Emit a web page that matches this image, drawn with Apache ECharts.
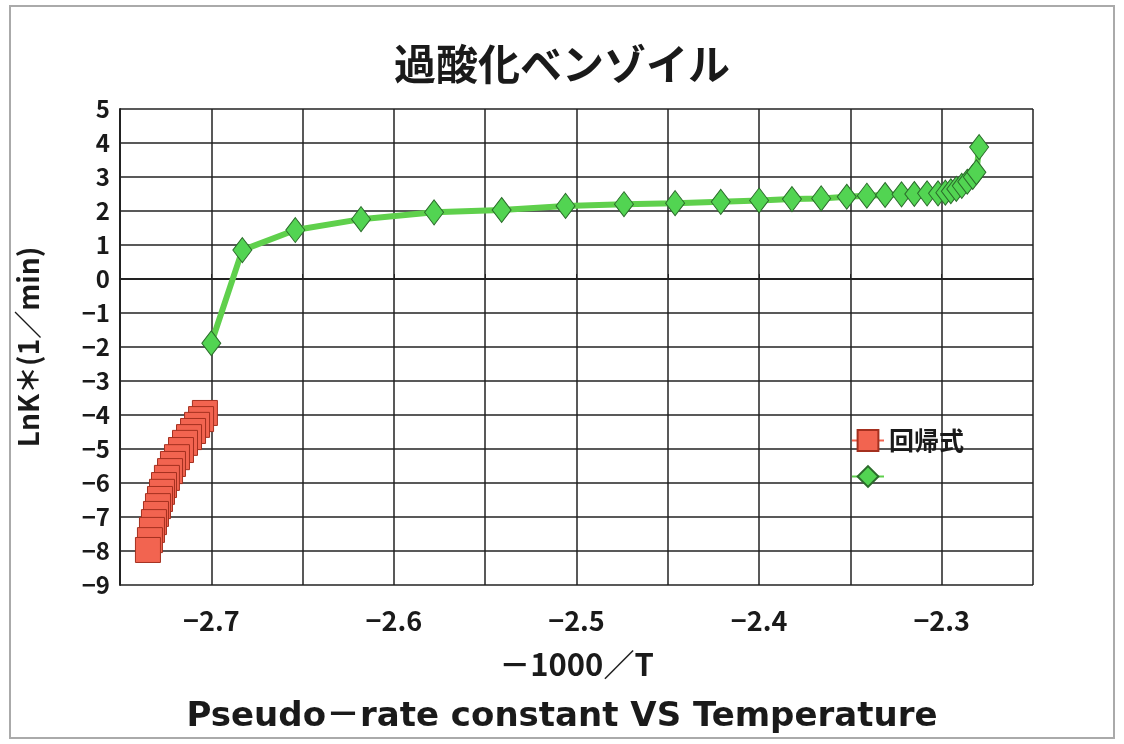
<!DOCTYPE html>
<html>
<head>
<meta charset="utf-8">
<script src="https://cdn.jsdelivr.net/npm/echarts@6/dist/echarts.min.js"></script>
<style>
	html, body { margin: 0; padding: 0; background: #fff; }
	#chart { width: 1124px; height: 744px; }
</style>
</head>
<body>
<div id="chart"></div>
<script>
	// 回帰式（赤い四角）
	var regX = [-2.7035, -2.7056, -2.7078, -2.7100, -2.7122, -2.7144, -2.7166, -2.7188, -2.7210, -2.7226,
		-2.7243, -2.7259, -2.7270, -2.7281, -2.7292, -2.7303, -2.7314, -2.7325, -2.7336, -2.7347];
	var regY = [-3.94, -4.12, -4.29, -4.47, -4.65, -4.82, -5.03, -5.24, -5.44, -5.65,
		-5.85, -6.06, -6.26, -6.47, -6.68, -6.91, -7.15, -7.38, -7.68, -7.97];
	// 実測（緑の菱形）
	var obsX = [-2.700, -2.683, -2.654, -2.618, -2.578, -2.541, -2.506, -2.474, -2.446, -2.421,
		-2.400, -2.382, -2.366, -2.352, -2.341, -2.331, -2.322, -2.315, -2.308, -2.302,
		-2.298, -2.295, -2.292, -2.289, -2.286, -2.283, -2.281, -2.2795];
	var obsY = [-1.89, 0.85, 1.44, 1.76, 1.96, 2.03, 2.15, 2.20, 2.23, 2.27,
		2.31, 2.35, 2.37, 2.42, 2.45, 2.47, 2.49, 2.50, 2.52, 2.52,
		2.54, 2.58, 2.65, 2.74, 2.86, 3.00, 3.14, 3.88];
	var yTicks = [5, 4, 3, 2, 1, 0, -1, -2, -3, -4, -5, -6, -7, -8, -9];
	var xTicks = [-2.7, -2.6, -2.5, -2.4, -2.3];

	function pairs(xs, ys) {
		return xs.map(function (x, i) { return [x, ys[i]]; });
	}
	function minus(v) {
		return String(v).replace('-', '−');
	}

	var myChart = echarts.init(document.getElementById('chart'));
	var jp = '"Noto Sans CJK JP", sans-serif';

	myChart.setOption({
		backgroundColor: '#fff',
		animation: false,
		graphic: [{
			type: 'rect',
			shape: { x: 10, y: 6, width: 1104, height: 732 },
			style: { fill: 'none', stroke: '#aaa', lineWidth: 2 }
		}],
		title: [{
			text: '過酸化ベンゾイル',
			left: 'center',
			top: 38,
			textStyle: { fontFamily: jp, fontSize: 42, fontWeight: 'bold', color: '#1a1a1a' }
		}, {
			text: 'Pseudo－rate constant VS Temperature',
			left: 'center',
			top: 695,
			textStyle: { fontFamily: '"DejaVu Sans", "Noto Sans CJK JP", sans-serif', fontSize: 34, fontWeight: 'bold', color: '#1a1a1a' }
		}],
		legend: {
			orient: 'vertical',
			left: 846,
			top: 423,
			itemWidth: 32,
			itemHeight: 26,
			itemGap: 11,
			data: ['回帰式', ' '],
			textStyle: { fontFamily: jp, fontSize: 25, fontWeight: 'bold', color: '#1a1a1a' }
		},
		grid: {
			left: 120,
			right: 91,
			top: 109,
			bottom: 159
		},
		xAxis: {
			type: 'value',
			min: -2.75,
			max: -2.25,
			interval: 0.05,
			name: '－1000／T',
			nameLocation: 'middle',
			nameGap: 64,
			nameTextStyle: { fontFamily: jp, fontSize: 31, fontWeight: 'bold', color: '#1a1a1a' },
			axisLine: { show: true, lineStyle: { color: '#222', width: 2 } },
			axisTick: { show: true, inside: true, length: 5, lineStyle: { color: '#222' } },
			splitLine: { show: true, lineStyle: { color: '#222', width: 1.5 } },
			axisLabel: {
				margin: 22,
				fontFamily: jp,
				fontSize: 27,
				fontWeight: 'bold',
				color: '#1a1a1a',
				showMinLabel: false,
				showMaxLabel: false,
				formatter: function (v) {
					for (var i = 0; i < xTicks.length; i++) {
						if (Math.abs(v - xTicks[i]) < 1e-6) return minus(xTicks[i].toFixed(1));
					}
					return '';
				}
			}
		},
		yAxis: {
			type: 'value',
			min: yTicks[yTicks.length - 1],
			max: yTicks[0],
			interval: 1,
			name: 'LnK＊(1／min)',
			nameLocation: 'middle',
			nameGap: 78,
			nameTextStyle: { fontFamily: jp, fontSize: 28, fontWeight: 'bold', color: '#1a1a1a' },
			axisLine: { show: true, lineStyle: { color: '#222', width: 2 } },
			axisTick: { show: false },
			splitLine: { show: true, lineStyle: { color: '#222', width: 1.5 } },
			axisLabel: {
				margin: 10,
				fontFamily: jp,
				fontSize: 24,
				fontWeight: 'bold',
				color: '#1a1a1a',
				formatter: function (v) { return minus(v); }
			}
		},
		series: [{
			name: '回帰式',
			type: 'line',
			data: pairs(regX, regY),
			symbol: 'rect',
			symbolSize: 25,
			z: 3,
			itemStyle: { color: '#f26450', borderColor: '#a4301f', borderWidth: 1 },
			lineStyle: { color: '#f26450', width: 4 }
		}, {
			name: ' ',
			type: 'line',
			data: pairs(obsX, obsY),
			symbol: 'diamond',
			symbolSize: [19, 25],
			z: 4,
			itemStyle: { color: '#52d452', borderColor: '#2b6b2b', borderWidth: 1 },
			lineStyle: { color: '#5fd04c', width: 6 }
		}]
	});
</script>
</body>
</html>
